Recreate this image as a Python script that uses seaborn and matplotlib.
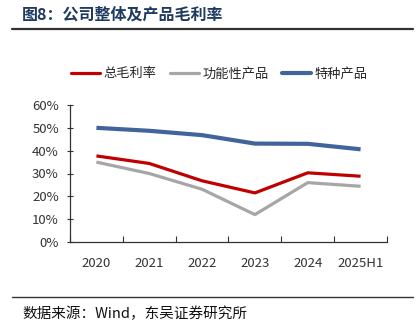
import matplotlib
matplotlib.use("Agg")
import matplotlib.pyplot as plt
import seaborn as sns
import pandas as pd
from matplotlib.lines import Line2D
from matplotlib.ticker import PercentFormatter, FixedLocator

years = ["2020", "2021", "2022", "2023", "2024", "2025H1"]
total_margin = [0.377, 0.344, 0.268, 0.215, 0.303, 0.288]
functional = [0.350, 0.300, 0.231, 0.120, 0.260, 0.244]
special = [0.500, 0.487, 0.468, 0.431, 0.430, 0.406]
series_names = ["总毛利率", "功能性产品", "特种产品"]
colors = ["#C00000", "#A6A6A6", "#41659A"]
widths = [2.3, 2.3, 3.0]

sns.set_theme(style="white")
plt.rcParams["font.family"] = ["Noto Sans CJK SC", "DejaVu Sans"]

rows = []
for name, vals in zip(series_names, [total_margin, functional, special]):
    for i, (y, v) in enumerate(zip(years, vals)):
        rows.append({"idx": i, "year": y, "series": name, "value": v})
df = pd.DataFrame(rows)

fig = plt.figure(figsize=(4.2, 3.36), dpi=100)
ax = fig.add_axes([70/420, 1-242/336, (387-70)/420, (242-105)/336])

for name, c, w in zip(series_names, colors, widths):
    sub = df[df["series"] == name]
    sns.lineplot(data=sub, x="idx", y="value", color=c, linewidth=w, ax=ax,
                 legend=False, solid_capstyle="butt")

ax.set_xlim(-0.5, len(years) - 0.5)
ax.set_ylim(0, 0.6)
ax.set_yticks([0, 0.1, 0.2, 0.3, 0.4, 0.5, 0.6])
ax.yaxis.set_major_formatter(PercentFormatter(1.0, decimals=0))
ax.set_xticks(range(len(years)))
ax.set_xticklabels(years)
ax.xaxis.set_minor_locator(FixedLocator([i - 0.5 for i in range(len(years) + 1)]))
ax.tick_params(axis="x", which="major", length=0, pad=11, labelsize=9.5, labelcolor="#333333")
ax.tick_params(axis="x", which="minor", length=4, direction="in", width=0.8, color="#333333", bottom=True)
ax.tick_params(axis="y", which="major", length=4, direction="inout", width=0.8, color="#333333",
               left=True, labelsize=9.5, labelcolor="#333333", pad=6)
ax.set_xlabel("")
ax.set_ylabel("")
for s in ["top", "right"]:
    ax.spines[s].set_visible(False)
for s in ["left", "bottom"]:
    ax.spines[s].set_color("#333333")
    ax.spines[s].set_linewidth(0.9)

handles = [Line2D([0], [0], color=c, lw=w) for c, w in zip(colors, widths)]
fig.legend(handles, series_names, loc="center", bbox_to_anchor=(0.522, 1-74/336), ncol=3,
           frameon=False, fontsize=9.5, handlelength=2.2, handletextpad=0.25,
           columnspacing=1.0)

fig.text(22/420, 1-15/336, "图8：公司整体及产品毛利率", fontsize=11.5, fontweight="bold",
         color="#1F3A5F", ha="left", va="center")
fig.add_artist(Line2D([12/420, 413/420], [1-29/336, 1-29/336], color="#333333", lw=1.6))
fig.add_artist(Line2D([12/420, 413/420], [1-297/336, 1-297/336], color="#333333", lw=1.0))
fig.text(22/420, 1-314/336, "数据来源：Wind，东吴证券研究所", fontsize=10.5, color="#111111",
         ha="left", va="center")

fig.savefig("out.png", dpi=100)
